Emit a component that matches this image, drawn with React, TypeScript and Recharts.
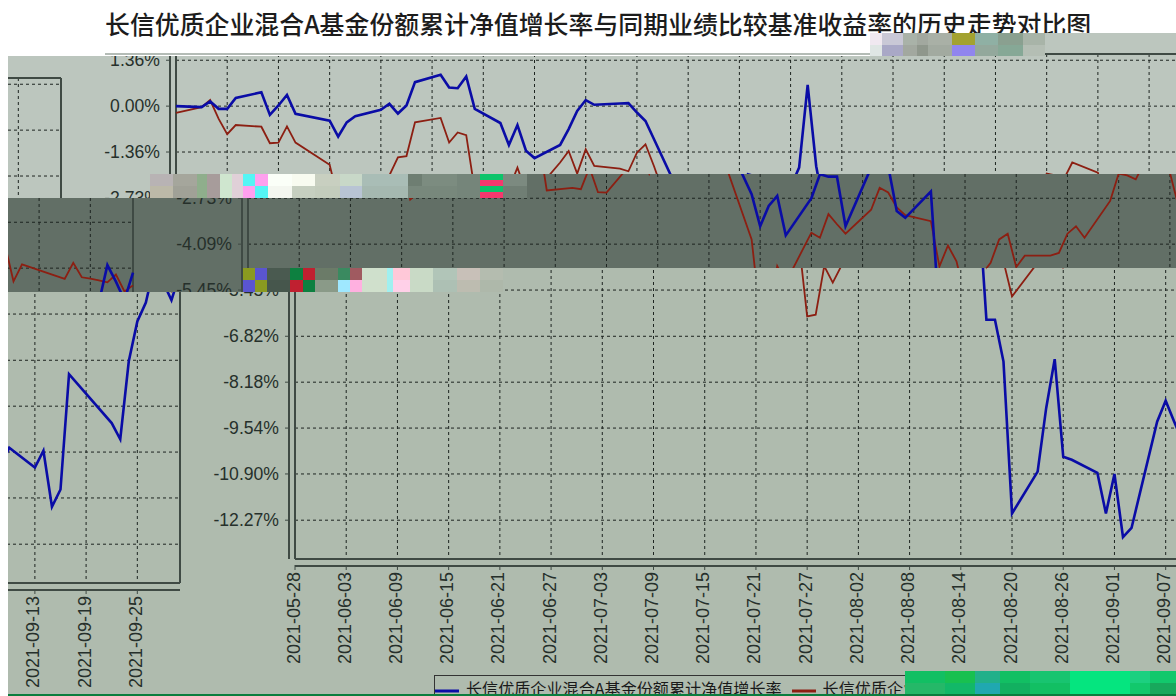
import React from 'react';
import { LineChart, Line, XAxis, YAxis, CartesianGrid, ReferenceLine, Legend } from 'recharts';

const TITLE = '长信优质企业混合A基金份额累计净值增长率与同期业绩比较基准收益率的历史走势对比图';
const FUND_NAME = '长信优质企业混合A基金份额累计净值增长率';
const BENCH_NAME = '长信优质企业混合A基金业绩比较基准收益率';

const dates = [
  '2021-05-28', '2021-05-31', '2021-06-01', '2021-06-02', '2021-06-03', '2021-06-04', '2021-06-07', '2021-06-08',
  '2021-06-09', '2021-06-10', '2021-06-11', '2021-06-15', '2021-06-16', '2021-06-17', '2021-06-18', '2021-06-21',
  '2021-06-22', '2021-06-23', '2021-06-24', '2021-06-25', '2021-06-28', '2021-06-29', '2021-06-30', '2021-07-01',
  '2021-07-02', '2021-07-05', '2021-07-06', '2021-07-07', '2021-07-08', '2021-07-09', '2021-07-12', '2021-07-13',
  '2021-07-14', '2021-07-15', '2021-07-16', '2021-07-19', '2021-07-20', '2021-07-21', '2021-07-22', '2021-07-23',
  '2021-07-26', '2021-07-27', '2021-07-28', '2021-07-29', '2021-07-30', '2021-08-02', '2021-08-03', '2021-08-04',
  '2021-08-05', '2021-08-06', '2021-08-09', '2021-08-10', '2021-08-11', '2021-08-12', '2021-08-13', '2021-08-16',
  '2021-08-17', '2021-08-18', '2021-08-19', '2021-08-20', '2021-08-23', '2021-08-24', '2021-08-25', '2021-08-26',
  '2021-08-27', '2021-08-30', '2021-08-31', '2021-09-01', '2021-09-02', '2021-09-03', '2021-09-06', '2021-09-07',
  '2021-09-08', '2021-09-09', '2021-09-10', '2021-09-13', '2021-09-14', '2021-09-15', '2021-09-16', '2021-09-17',
  '2021-09-22', '2021-09-23', '2021-09-24', '2021-09-25', '2021-09-26', '2021-09-27', '2021-09-28', '2021-09-29',
  '2021-09-30',
];

const fundValues = [
  0, -0.03, 0.14, -0.08, -0.08, 0.24, 0.41, -0.26,
  0.02, 0.33, -0.23, -0.43, -0.9, -0.48, -0.3, -0.11,
  0.07, -0.22, 0.02, 0.71, 0.93, 0.55, 0.53, 0.88,
  -0.08, -0.5, -1.15, -0.56, -1.32, -1.54, -1.15, -0.68,
  -0.14, 0.18, 0.04, 0.08, 0.09, -0.19, -0.44, -0.98,
  -2.61, -3.56, -2.96, -2.66, -3.83, -2.73, -2.02, -2.09,
  -2.09, -3.56, -1.82, 0.63, -1.78, -3.11, -3.31, -2.53,
  -6.33, -6.33, -7.57, -12.07, -10.83, -8.95, -7.5, -10.39,
  -10.48, -10.87, -12.07, -10.9, -12.77, -12.5, -9.35, -8.73,
  -9.35, -9.95, -9.41, -10.0, -9.5, -11.16, -10.65, -7.23,
  -8.68, -9.16, -6.85, -5.67, -5.11, -4.0, -4.49, -5.04,
  -4.22,
];

const benchValues = [
  -0.2, -0.03, 0.18, -0.38, -0.83, -0.56, -0.61, -1.1,
  -1.08, -0.6, -1.08, -1.74, -2.77, -2.55, -2.5, -2.55,
  -2.05, -1.52, -1.48, -0.48, -0.35, -1.08, -0.78, -0.86,
  -2.5, -2.42, -2.46, -1.82, -2.55, -2.56, -1.67, -1.33,
  -2, -1.28, -1.77, -1.85, -1.93, -1.38, -1.13, -1.78,
  -3.95, -6.23, -6.18, -4.74, -5.23, -3.75, -3.9, -3.2,
  -3.5, -3.78, -3.07, -2.42, -2.56, -3, -3.23, -3.41,
  -4.75, -4.13, -4.6, -5.64, -4.64, -3.95, -3.78, -4.77,
  -4.43, -4.43, -4.35, -3.78, -3.56, -3.9, -2.81, -2,
  -2.05, -2.17, -1.67, -1.97, -2.96, -3.4, -4.48, -3.98,
  -4.41, -3.93, -4.36, -4.4, -4.45, -4.51, -4.28, -4.78,
  -4.6,
];

const yTicks = [1.36, 0, -1.36, -2.73, -4.09, -5.45, -6.82, -8.18, -9.54, -10.9, -12.27];
const xTickDates = [
  '2021-05-28', '2021-06-03', '2021-06-09', '2021-06-15', '2021-06-21', '2021-06-27', '2021-07-03',
  '2021-07-09', '2021-07-15', '2021-07-21', '2021-07-27', '2021-08-02', '2021-08-08', '2021-08-14',
  '2021-08-20', '2021-08-26', '2021-09-01', '2021-09-07', '2021-09-13', '2021-09-19', '2021-09-25',
];

const Y_MAX = 1.545;
const Y_MIN = -13.42;
const LAST_DAY = 125;

const dayOf = (d: string) => (Date.parse(d) - Date.parse(dates[0])) / 86400000;
const rows = dates.map((d, i) => ({ day: dayOf(d), fund: fundValues[i], bench: benchValues[i] }));
const xTicks = xTickDates.map(dayOf);

// the whole picture is one chart, cut into bands that sit at different x offsets
const W = 1182;
const H = 720;
const PLOT_LEFT = 105;
const INK = '#3f4a44';

const LIGHT = '#bcc6be';
const LOWER = '#afbbae';
const DARK = '#626f66';

const YTick = ({ y, payload }: any) => (
  <g>
    <line x1={PLOT_LEFT - 10} x2={PLOT_LEFT - 6} y1={y} y2={y} stroke={INK} />
    <text x={PLOT_LEFT - 16} y={y} dy={6} textAnchor="end" fontSize={17.6} fill="#26302b" fontFamily="Liberation Sans">
      {Number(payload.value).toFixed(2)}%
    </text>
  </g>
);

const XTick = ({ x, payload }: any) => {
  const label = xTickDates[xTicks.indexOf(payload.value)];
  return (
    <g>
      <line x1={x} x2={x} y1={565} y2={570} stroke={INK} />
      <text x={x} y={572} dy={4.5} textAnchor="end" fontSize={18} fill="#26302b" fontFamily="Liberation Sans"
        transform={`rotate(-90, ${x}, 572)`}>
        {label}
      </text>
    </g>
  );
};

function Chart({ bg }: { bg: string }) {
  return (
    <div style={{ position: 'relative', width: W, height: H, background: bg }}>
      <LineChart width={W} height={H} data={rows} margin={{ top: 54, right: 10, bottom: 21, left: 5 }}>
        <CartesianGrid stroke="#1d2420" strokeDasharray="3 3" />
        <XAxis type="number" dataKey="day" domain={[0, LAST_DAY]} ticks={xTicks} height={100}
          interval={0} axisLine={false} tickLine={false} tick={<XTick />} />
        <YAxis type="number" domain={[Y_MIN, Y_MAX]} ticks={yTicks} width={100} interval={0}
          axisLine={false} tickLine={false} tick={<YTick />} />
        <ReferenceLine x={0} stroke={INK} strokeWidth={2} />
        <ReferenceLine x={LAST_DAY} stroke={INK} strokeWidth={2} />
        <ReferenceLine y={Y_MAX} stroke={INK} strokeWidth={2} />
        <ReferenceLine y={Y_MIN} stroke={INK} strokeWidth={2} />
        <Legend iconType="plainline" iconSize={24} align="left" itemSorter={(it: any) => (it.dataKey === 'fund' ? 0 : 1)}
          wrapperStyle={{ position: 'absolute', left: 244, top: 675, width: 760, height: 40, border: '1px solid #333', boxSizing: 'border-box', paddingLeft: 0, paddingTop: 0, whiteSpace: 'nowrap' }}
          formatter={(v: string) => <span style={{ color: '#1a1a1a', fontSize: 16.1, fontFamily: 'Noto Sans CJK SC', marginLeft: 3 }}>{v}</span>} />
        <Line type="linear" dataKey="bench" name={BENCH_NAME} stroke="#8c1f12" strokeWidth={1.8} dot={false} isAnimationActive={false} />
        <Line type="linear" dataKey="fund" name={FUND_NAME} stroke="#0a0ca6" strokeWidth={2.6} dot={false} isAnimationActive={false} />
      </LineChart>
      <div style={{ position: 'absolute', left: 98, top: 54, width: 2, height: 505, background: INK }} />
      <div style={{ position: 'absolute', left: 105, top: 565, width: 1067, height: 2, background: INK }} />
    </div>
  );
}

// x, width, then colours stacked top to bottom
const titleBlocks: [number, number, string[]][] = [
  [870, 12, ['#f0e8f0', '#dfe6e4']], [882, 21, ['#c9c8d6', '#a9a8c6']], [903, 14, ['#a9b2a8', '#a2a89f']],
  [917, 11, ['#a2a89f', '#8f978c']], [928, 24, ['#a9b0a6', '#a2aaa0']], [952, 23, ['#a3a230', '#9085ee']],
  [975, 23, ['#8fb0a4', '#93a89c']], [998, 25, ['#8aa090', '#86a896']], [1023, 22, ['#a8b4a8', '#b4beb4']],
];
const upperBlocks: [number, number, string[]][] = [
  [150, 23, ['#b8b3b4', '#bcb9a8']], [173, 24, ['#a5a69c', '#a0a197']], [197, 10, ['#8fae8c', '#8fae8c']],
  [207, 13, ['#a79c9b', '#a79c9b']], [220, 12, ['#cfe6cf', '#cfe6cf']], [232, 11, ['#e0d0d8', '#e0d0d8']],
  [243, 12, ['#55f5f5', '#ffa0ee']], [255, 13, ['#ffa0ee', '#55f5f5']], [268, 24, ['#fbfff8', '#f4f7f0']],
  [292, 23, ['#f8fbf0', '#c6cfc0']], [315, 25, ['#c8cfc0', '#c3ccbc']], [340, 22, ['#c8d8c8', '#b8c4d4']],
  [362, 46, ['#a9bdb6', '#a5b8b0']], [408, 14, ['#6e7e72', '#78887c']], [422, 35, ['#7c8c80', '#78887c']],
  [457, 23, ['#75857a', '#75857a']], [480, 23, ['#0cc46a', '#f5386e', '#0cc46a', '#f5386e']], [503, 24, ['#7c8a80', '#707e74']],
];
const lowerBlocks: [number, number, string[]][] = [
  [243, 12, ['#8a9a20', '#5a55d0']], [255, 12, ['#5a55d0', '#8a9a20']], [267, 23, ['#4a5a50', '#46564c']],
  [290, 13, ['#0d8040', '#c02030']], [303, 12, ['#c02030', '#0d8040']], [315, 23, ['#6b7b68', '#8a9a88']],
  [338, 12, ['#3a8a60', '#9fe8ff']], [350, 12, ['#a05a60', '#ffb0e0']], [362, 25, ['#cfe0cc', '#d0e0cc']],
  [387, 6, ['#a0f0f0', '#a0f0f0']], [393, 17, ['#ffc8d8', '#ffd0e8']], [410, 23, ['#c9dac6', '#c9dac6']],
  [433, 24, ['#b1c5b8', '#adc0b4']], [457, 23, ['#c8c0b8', '#bdbcb0']], [480, 23, ['#b4bcaf', '#aeb8aa']],
];
const greenBlocks: [number, number, string[]][] = [
  [905, 40, ['#12bf63', '#25b868']], [945, 30, ['#18c050', '#12b868']], [975, 25, ['#22b08a', '#20a8b0']],
  [1000, 30, ['#12bf63', '#12b060']], [1030, 40, ['#18c470', '#12bf63']], [1070, 60, ['#05e57f', '#05e57f']],
  [1130, 20, ['#1cd080', '#12c86c']], [1150, 26, ['#12c86c', '#18a85c']],
];

function Band({ x, y, w, h, left, dy = 0, bg }: { x: number; y: number; w: number; h: number; left: number; dy?: number; bg: string }) {
  return (
    <div style={{ position: 'absolute', left: x, top: y, width: w, height: h, overflow: 'hidden' }}>
      <div style={{ position: 'absolute', left: left - x, top: dy - y }}>
        <Chart bg={bg} />
      </div>
    </div>
  );
}

function Blocks({ list, y, h }: { list: [number, number, string[]][]; y: number; h: number }) {
  return (
    <>
      {list.map(([x, w, colors]) => colors.map((c, i) => (
        <div key={`${x}-${i}`} style={{
          position: 'absolute', left: x, width: w, background: c,
          top: y + (h * i) / colors.length, height: h / colors.length,
        }} />
      )))}
    </>
  );
}

export default function App() {
  return (
    <div style={{ position: 'absolute', left: 0, top: 0, width: 1176, height: 696, overflow: 'hidden', background: '#fff' }}>
      <span style={{ position: 'absolute', left: 105, top: 5, whiteSpace: 'nowrap', fontFamily: 'Noto Sans CJK SC', fontWeight: 500, fontSize: 24.9, color: '#1c1c1c' }}>{TITLE}</span>
      <div style={{ position: 'absolute', left: 105, top: 53, width: 770, height: 2, background: '#b4bcb6' }} />

      {/* top part */}
      <Band x={8} y={56} w={63} h={142} left={71 - W} dy={24} bg={LIGHT} />
      <Band x={71} y={56} w={79} h={142} left={71} bg={LIGHT} />
      <Band x={150} y={56} w={1026} h={118} left={71} bg={LIGHT} />
      <Band x={1045} y={33} w={131} h={23} left={71} bg={LIGHT} />
      <Blocks list={titleBlocks} y={33} h={23} />

      {/* dark part */}
      <Blocks list={upperBlocks} y={174} h={24} />
      <Band x={527} y={174} w={649} h={24} left={143} bg={DARK} />
      <Band x={8} y={198} w={135} h={94} left={143 - W} dy={24} bg={DARK} />
      <Band x={143} y={198} w={1033} h={70} left={143} bg={DARK} />
      <Band x={143} y={268} w={100} h={24} left={143} bg={DARK} />

      {/* lower part */}
      <Blocks list={lowerBlocks} y={268} h={24} />
      <Band x={503} y={268} w={673} h={24} left={190} bg={LOWER} />
      <Band x={8} y={292} w={182} h={404} left={190 - W} dy={24} bg={LOWER} />
      <Band x={190} y={292} w={986} h={404} left={190} bg={LOWER} />

      <Blocks list={greenBlocks} y={671} h={23} />
      <div style={{ position: 'absolute', left: 8, top: 693.5, width: 1168, height: 3, background: '#0b7d3e' }} />
    </div>
  );
}
